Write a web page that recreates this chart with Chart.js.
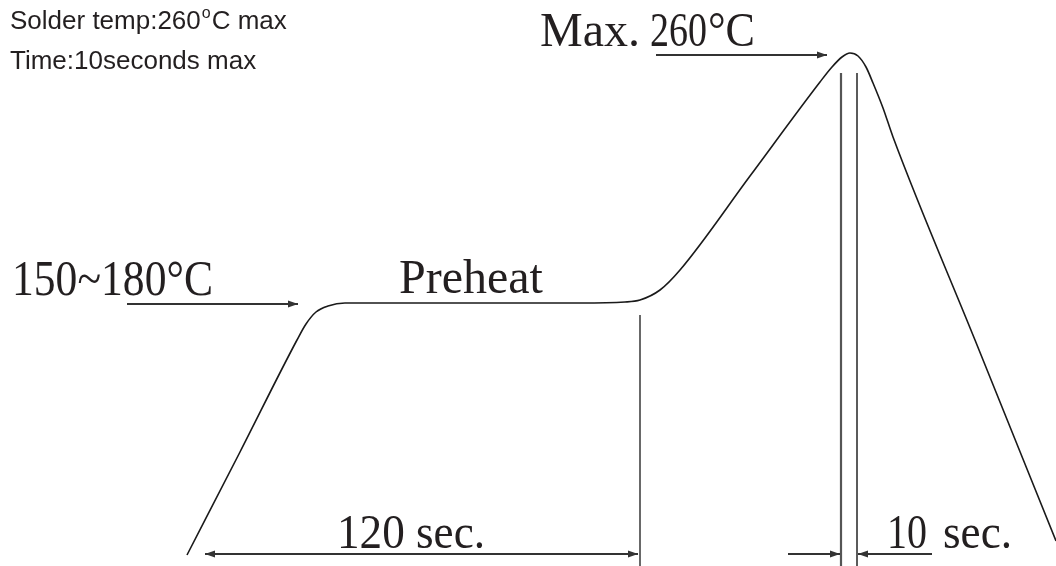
<!DOCTYPE html>
<html>
<head>
<meta charset="utf-8">
<script src="https://cdn.jsdelivr.net/npm/chart.js@4/dist/chart.umd.min.js"></script>
<style>
    html, body { margin: 0; padding: 0; background: #fff; }
    canvas { display: block; }
</style>
</head>
<body>
<canvas id="profile-chart" width="1056" height="566"></canvas>
<script>
// reflow profile, in diagram units: time runs left to right, temperature level runs upward
const profileTime = [187, 240, 297, 306, 316, 328, 345, 420, 500, 580, 625, 640, 660, 680, 750, 820, 832, 842, 850, 858, 866, 873, 883, 893, 975, 1056];
const profileTemp = [11, 114, 226, 242, 254, 260, 263, 263, 263, 263, 264, 266, 276, 296, 390, 484, 499, 509, 513, 510, 499, 483, 458, 429, 226, 25];

// dimension markers (start / end of each line)
const markerPreheatEnd = { time: [640, 640], temp: [251, 0] };
const markerPeakStart = { time: [841, 841], temp: [493, 0] };
const markerPeakEnd = { time: [857, 857], temp: [493, 0] };

// pointer arrows
const arrowMaxTemp = { time: [656, 827], temp: [511, 511] };
const arrowPreheatTemp = { time: [127, 298], temp: [262, 262] };
const arrowPreheatTime = { time: [205, 638], temp: [12, 12] };
const arrowPeakLeft = { time: [788, 840], temp: [12, 12] };
const arrowPeakRight = { time: [932, 858], temp: [12, 12] };

const TIME_MAX = 1056;
const TEMP_MAX = 566;

function toPoints(series) {
    return series.time.map((t, i) => ({ x: t, y: series.temp[i] }));
}

function markerDataset(series, color, width) {
    return {
        data: toPoints(series),
        borderColor: color,
        borderWidth: width,
        pointRadius: 0,
        tension: 0
    };
}

function arrowDataset(series, heads) {
    return {
        data: toPoints(series),
        borderColor: '#333',
        borderWidth: 2,
        pointRadius: 0,
        tension: 0,
        arrowHeads: heads
    };
}

//draws the filled arrowheads at the ends of the arrow datasets
const arrowHeadPlugin = {
    id: 'arrowHeads',
    afterDatasetsDraw(chart) {
        const ctx = chart.ctx;
        chart.data.datasets.forEach((ds, i) => {
            if (!ds.arrowHeads) return;
            const pts = chart.getDatasetMeta(i).data;
            const ends = [[pts[pts.length - 1], pts[pts.length - 2]]];
            if (ds.arrowHeads === 'both') ends.push([pts[0], pts[1]]);
            ends.forEach(([tip, from]) => {
                const ang = Math.atan2(tip.y - from.y, tip.x - from.x);
                const len = 10, half = 3.5;
                ctx.save();
                ctx.translate(tip.x, tip.y);
                ctx.rotate(ang);
                ctx.fillStyle = '#333';
                ctx.beginPath();
                ctx.moveTo(0, 0);
                ctx.lineTo(-len, -half);
                ctx.lineTo(-len, half);
                ctx.closePath();
                ctx.fill();
                ctx.restore();
            });
        });
    }
};

//text is placed in the same units as the data so it follows the scales
const labelPlugin = {
    id: 'profileLabels',
    afterDraw(chart) {
        const ctx = chart.ctx;
        const xs = chart.scales.x, ys = chart.scales.y;
        const px = v => xs.getPixelForValue(v);
        const py = v => ys.getPixelForValue(v);
        const serif = '"Liberation Serif", "DejaVu Serif", serif';
        const sans = '"Liberation Sans", Arial, sans-serif';

        function fitText(text, x, y, width, font) {
            ctx.font = font;
            ctx.fillText(text, x, y, width);
        }

        ctx.save();
        ctx.fillStyle = '#231f20';
        ctx.textBaseline = 'alphabetic';
        ctx.textAlign = 'left';

        // top left notes, degree sign written as a raised small "o"
        ctx.font = '26px ' + sans;
        let x0 = px(10);
        const head = 'Solder temp:260';
        ctx.fillText(head, x0, py(537));
        x0 += ctx.measureText(head).width + 1;
        ctx.font = '16px ' + sans;
        ctx.fillText('o', x0, py(537) - 11);
        x0 += ctx.measureText('o').width + 1;
        ctx.font = '26px ' + sans;
        ctx.fillText('C max', x0, py(537));
        ctx.fillText('Time:10seconds max', px(10), py(497));

        // serif callouts
        fitText('Max.', px(540), py(520), 103, '48px ' + serif);
        fitText('260', px(650), py(520), 57, '48px ' + serif);
        fitText('\u00B0C', px(708), py(520), 47, '48px ' + serif);

        fitText('150~180\u00B0C', px(12), py(271), 201, '50px ' + serif);
        fitText('Preheat', px(399), py(273), 144, '48px ' + serif);
        fitText('120 sec.', px(337), py(18), 148, '48px ' + serif);
        fitText('10', px(887), py(18), 40, '48px ' + serif);
        fitText('sec.', px(943), py(18), 69, '48px ' + serif);
        ctx.restore();
    }
};

const ctx = document.getElementById('profile-chart').getContext('2d');
const profileChart = new Chart(ctx, {
    type: 'line',
    data: {
        datasets: [
            {
                data: profileTime.map((t, i) => ({ x: t, y: profileTemp[i] })),
                borderColor: '#1a1a1a',
                borderWidth: 1.6,
                pointRadius: 0,
                cubicInterpolationMode: 'monotone'
            },
            markerDataset(markerPreheatEnd, '#444', 1.6),
            markerDataset(markerPeakStart, '#555', 2.2),
            markerDataset(markerPeakEnd, '#333', 1.6),
            arrowDataset(arrowMaxTemp, 'end'),
            arrowDataset(arrowPreheatTemp, 'end'),
            arrowDataset(arrowPreheatTime, 'both'),
            arrowDataset(arrowPeakLeft, 'end'),
            arrowDataset(arrowPeakRight, 'end')
        ]
    },
    options: {
        responsive: false,
        animation: false,
        devicePixelRatio: 1,
        layout: { padding: 0 },
        scales: {
            x: { type: 'linear', min: 0, max: TIME_MAX, display: false },
            y: { type: 'linear', min: 0, max: TEMP_MAX, display: false }
        },
        plugins: {
            legend: { display: false },
            tooltip: { enabled: false }
        }
    },
    plugins: [arrowHeadPlugin, labelPlugin]
});
</script>
</body>
</html>
